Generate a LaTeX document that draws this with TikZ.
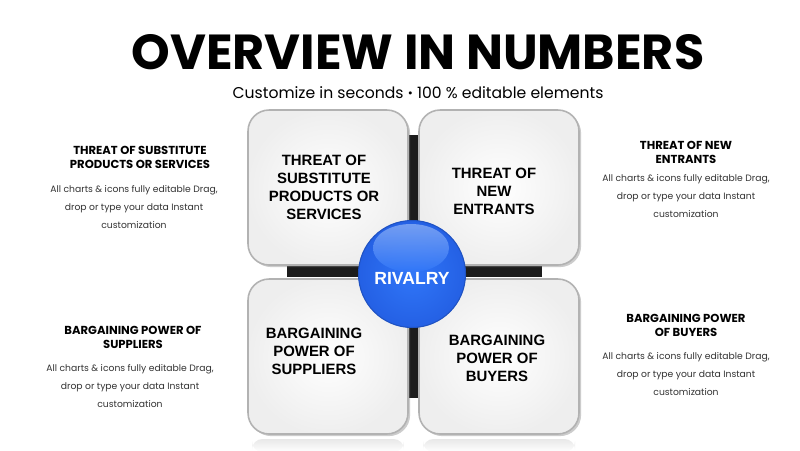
\documentclass[tikz,border=0pt]{standalone}
\usepackage{fontspec}
\setmainfont{Poppins}
\newfontfamily\boxfont{Liberation Sans}
\usetikzlibrary{shadows}
\definecolor{rivalblue}{RGB}{48,118,248}
\definecolor{rivaldark}{RGB}{36,96,228}
\definecolor{rivallight}{RGB}{135,172,245}
\definecolor{barcol}{RGB}{28,28,28}

\begin{document}
\begin{tikzpicture}[x=0.02cm, y=-0.02cm,
        forcebox/.style={rectangle, rounded corners=12pt, minimum width=3.2cm,
            minimum height=3.1cm, draw=gray!60, line width=0.9pt,
            inner color=white, outer color=gray!13,
            drop shadow={shadow xshift=1.2pt, shadow yshift=-1.2pt, opacity=0.4}},
        forcetext/.style={align=center, font=\boxfont\bfseries\fontsize{8.5}{10.2}\selectfont},
        sidehead/.style={align=center, font=\bfseries\fontsize{6.6}{8}\selectfont},
        sidebody/.style={align=center, font=\fontsize{5.25}{10.2}\selectfont, text=black!80}]
    \useasboundingbox (0,0) rectangle (800,450);
    \fill[white] (0,0) rectangle (800,450);

    \node (title) at (418,52) {\fontsize{28}{30}\selectfont\bfseries OVERVIEW IN NUMBERS};
    \node (subtitle) at (418,93) {\fontsize{8.9}{11}\selectfont Customize in seconds \raisebox{0.5pt}{\scriptsize•} 100 \% editable elements};

    % reflections under the bottom boxes
    \shade[top color=gray!18, bottom color=white, rounded corners=6pt] (252,439) rectangle (404,452);
    \shade[top color=gray!18, bottom color=white, rounded corners=6pt] (423,439) rectangle (575,452);

    % cross behind the boxes
    \fill[barcol] (406,135) rectangle (420,398);
    \fill[barcol] (287,266) rectangle (542,277);

    \node[forcebox] (substitutes) at (328,187.5) {};
    \node[forcebox] (entrants) at (499,187.5) {};
    \node[forcebox] (suppliers) at (328,356.5) {};
    \node[forcebox] (buyers) at (499,356.5) {};

    \node[forcetext] (substxt) at (324,187) {THREAT OF\\SUBSTITUTE\\PRODUCTS OR\\SERVICES};
    \node[forcetext] (entrtxt) at (494,191) {THREAT OF\\NEW\\ENTRANTS};
    \node[forcetext] (supptxt) at (314,351) {BARGAINING\\POWER OF\\SUPPLIERS};
    \node[forcetext] (buytxt) at (497,358) {BARGAINING\\POWER OF\\BUYERS};

    % rivalry ball
    \node[circle, minimum size=2.14cm, inner color=rivalblue, outer color=rivaldark,
        draw=rivaldark!85!black, line width=0.6pt] (rivalry) at (412,274) {};
    \shade[top color=rivallight, bottom color=rivalblue, fill opacity=0.8]
        (411,248) ellipse [x radius=38, y radius=24];
    \node[text=white, font=\boxfont\bfseries\fontsize{10}{12}\selectfont] (rivaltxt) at (412,278) {RIVALRY};

    % side descriptions
    \node[sidehead] (subshead) at (140,157) {THREAT OF SUBSTITUTE\\PRODUCTS OR SERVICES};
    \node[sidebody] (subsbody) at (134,207) {All charts \& icons fully editable Drag,\\drop or type your data Instant\\customization};
    \node[sidehead] (entrhead) at (686,152) {THREAT OF NEW\\ENTRANTS};
    \node[sidebody] (entrbody) at (686,196) {All charts \& icons fully editable Drag,\\drop or type your data Instant\\customization};
    \node[sidehead] (supphead) at (133,337) {BARGAINING POWER OF\\SUPPLIERS};
    \node[sidebody] (suppbody) at (130,386) {All charts \& icons fully editable Drag,\\drop or type your data Instant\\customization};
    \node[sidehead] (buyhead) at (686,325) {BARGAINING POWER\\OF BUYERS};
    \node[sidebody] (buybody) at (686,374) {All charts \& icons fully editable Drag,\\drop or type your data Instant\\customization};
\end{tikzpicture}
\end{document}
